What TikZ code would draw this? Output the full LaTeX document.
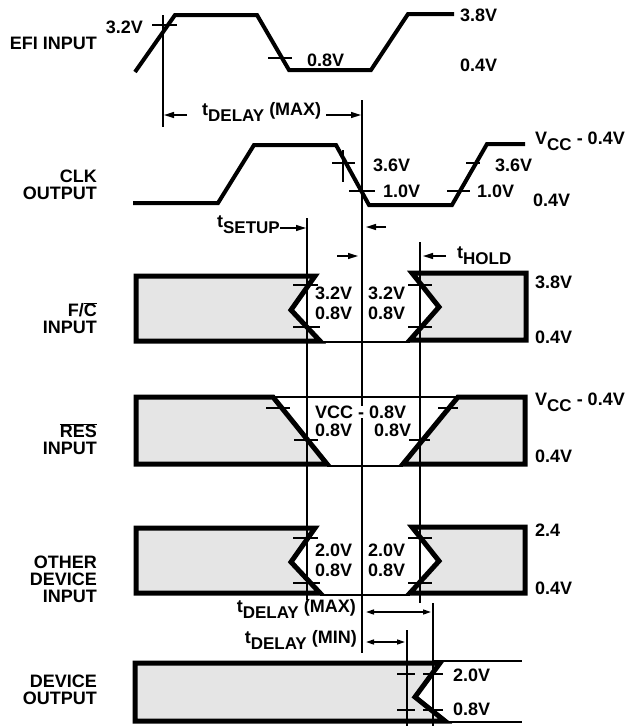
\documentclass[tikz,border=0pt]{standalone}
\usepackage{fontspec}
\setmainfont{Liberation Sans}
\usetikzlibrary{arrows.meta}
\newcommand\ovl[1]{\ensuremath{\overline{\hbox{#1}}}}
\newcommand\lowsub[1]{\raisebox{-6pt}{\fontsize{17}{17}\selectfont #1}}
\begin{document}
\begin{tikzpicture}[x=1pt,y=-1pt,
  sig/.style={line width=4pt},
  boxshape/.style={line width=5pt, fill=black!10},
  thinline/.style={line width=1.5pt},
  tickmark/.style={line width=1.5pt},
  lbl/.style={font=\bfseries\fontsize{18}{17}\selectfont, inner sep=0pt},
  sidelbl/.style={lbl, anchor=east, align=right},
  vlbl/.style={lbl, anchor=west},
  arr/.style={line width=1.5pt, -{Triangle[length=10pt,width=6pt]}},
  darr/.style={line width=1.5pt, {Triangle[length=8pt,width=5pt]}-{Triangle[length=8pt,width=5pt]}}
]
\useasboundingbox (0,0) rectangle (627,726);

% ---------- vertical reference lines ----------
\coordinate (v1t) at (163,15);  \coordinate (v1b) at (163,127);
\coordinate (v2t) at (362,100); \coordinate (v2b) at (362,653);
\coordinate (v3t) at (307,218); \coordinate (v3b) at (307,600);
\coordinate (v4t) at (420,242); \coordinate (v4b) at (420,603);
\coordinate (v5t) at (433,603); \coordinate (v5b) at (433,726);
\coordinate (v6t) at (407,630); \coordinate (v6b) at (407,726);

% ---------- EFI INPUT ----------
\node[sidelbl] (efi) at (97,43) {EFI INPUT};
\draw[sig] (135,72) -- (175,15) -- (257,15) -- (289,70) -- (371,70) -- (408,14) -- (454,14);
\draw[tickmark] (152,25) -- (177,25);
\draw[tickmark] (268,58) -- (292,58);
\node[lbl, anchor=east] (efi32) at (143,27) {3.2V};
\node[vlbl] (efi08) at (307,60) {0.8V};
\node[vlbl] (efi38) at (460,15) {3.8V};
\node[vlbl] (efi04) at (460,65) {0.4V};

% ---------- CLK OUTPUT ----------
\node[sidelbl] (clk) at (97,185) {CLK\\OUTPUT};
\draw[sig] (133,203) -- (218,203) -- (254,145) -- (336,145) -- (369,205) -- (452,205) -- (487,144) -- (525,144);
\draw[tickmark] (332,163) -- (355,163);
\draw[tickmark] (343,150) -- (343,182);
\draw[tickmark] (349,191) -- (375,191);
\draw[tickmark] (466,163) -- (480,163);
\draw[tickmark] (447,191) -- (470,191);
\node[vlbl] (clk36a) at (373,165) {3.6V};
\node[vlbl] (clk10a) at (383,191) {1.0V};
\node[vlbl] (clk36b) at (495,165) {3.6V};
\node[vlbl] (clk10b) at (477,191) {1.0V};
\node[vlbl] (clk04) at (533,200) {0.4V};
\node[vlbl] (clkvcc) at (535,141) {V\lowsub{CC} - 0.4V};

% ---------- F/C INPUT ----------
\node[sidelbl] (fc) at (97,318) {F/\ovl{C}\\INPUT};
\draw[boxshape] (136,276) -- (315,276) -- (291,310) -- (320,341) -- (136,341) -- cycle;
\draw[boxshape] (412,273) -- (526,273) -- (526,340) -- (410,340) -- (439,307) -- cycle;
\draw[thinline] (320,342) -- (410,342);
\draw[tickmark] (293,285) -- (318,285);
\draw[tickmark] (293,327) -- (320,327);
\draw[tickmark] (408,285) -- (432,285);
\draw[tickmark] (408,327) -- (432,327);
\node[vlbl] (fc32a) at (315,293) {3.2V};
\node[vlbl] (fc08a) at (315,313) {0.8V};
\node[vlbl] (fc32b) at (368,293) {3.2V};
\node[vlbl] (fc08b) at (368,313) {0.8V};
\node[vlbl] (fc38) at (535,282) {3.8V};
\node[vlbl] (fc04) at (535,337) {0.4V};

% ---------- RES INPUT ----------
\node[sidelbl] (res) at (97,439) {\ovl{RES}\\INPUT};
\draw[boxshape] (136,397) -- (273,397) -- (327,464) -- (136,464) -- cycle;
\draw[boxshape] (458,397) -- (525,397) -- (525,464) -- (403,464) -- cycle;
\draw[thinline] (273,397) -- (458,397);
\draw[thinline] (327,466) -- (403,466);
\draw[tickmark] (266,408) -- (290,408);
\draw[tickmark] (294,440) -- (318,440);
\draw[tickmark] (438,408) -- (458,408);
\draw[tickmark] (409,440) -- (430,440);

% ---------- OTHER DEVICE INPUT ----------
\node[sidelbl] (oth) at (97,579) {OTHER\\DEVICE\\INPUT};
\draw[boxshape] (136,528) -- (315,528) -- (291,562) -- (320,593) -- (136,593) -- cycle;
\draw[boxshape] (412,527) -- (525,527) -- (525,593) -- (410,593) -- (439,561) -- cycle;
\draw[thinline] (320,595) -- (410,595);
\draw[tickmark] (293,538) -- (318,538);
\draw[tickmark] (293,583) -- (320,583);
\draw[tickmark] (408,538) -- (432,538);
\draw[tickmark] (408,583) -- (432,583);
\node[vlbl] (oth20a) at (315,550) {2.0V};
\node[vlbl] (oth08a) at (315,570) {0.8V};
\node[vlbl] (oth20b) at (368,550) {2.0V};
\node[vlbl] (oth08b) at (368,570) {0.8V};
\node[vlbl] (oth24) at (535,530) {2.4};
\node[vlbl] (oth04) at (535,588) {0.4V};

% ---------- DEVICE OUTPUT ----------
\node[sidelbl] (dev) at (97,690) {DEVICE\\OUTPUT};
\draw[boxshape] (135,663) -- (440,663) -- (415,697) -- (445,721) -- (135,721) -- cycle;
\draw[thinline] (433,661) -- (522,661);
\draw[thinline] (445,722) -- (522,722);
\draw[tickmark] (397,674) -- (415,674);
\draw[tickmark] (423,674) -- (443,674);
\draw[tickmark] (397,710) -- (415,710);
\draw[tickmark] (423,710) -- (443,710);
\node[vlbl] (dev20) at (453,675) {2.0V};
\node[vlbl] (dev08) at (453,709) {0.8V};

% ---------- vertical lines ----------
\draw[thinline] (v1t) -- (v1b);
\draw[thinline] (v2t) -- (v2b);
\draw[thinline] (v3t) -- (v3b);
\draw[thinline] (v4t) -- (v4b);
\draw[thinline] (v5t) -- (v5b);
\draw[thinline] (v6t) -- (v6b);

% RES labels (white backed, over the line)
\node[vlbl, fill=white] (resvcc) at (315,412) {VCC - 0.8V};
\node[vlbl] (res08a) at (315,430) {0.8V};
\node[vlbl] (res08b) at (374,430) {0.8V};
\node[vlbl] (resvcc4) at (535,402) {V\lowsub{CC} - 0.4V};
\node[vlbl] (res04) at (535,456) {0.4V};

% ---------- timing annotations ----------
\node[lbl, anchor=west] (tdmax1) at (202,112) {t\lowsub{DELAY} (MAX)};
\coordinate (a1s) at (187,115); \coordinate (a1e) at (164,115);
\draw[arr] (a1s) -- (a1e);
\coordinate (a2s) at (326,115); \coordinate (a2e) at (361,115);
\draw[arr] (a2s) -- (a2e);

\node[lbl, anchor=east] (tsetup) at (280,225) {t\lowsub{SETUP}};
\coordinate (a3s) at (280,228); \coordinate (a3e) at (306,228);
\draw[arr] (a3s) -- (a3e);
\coordinate (a4s) at (386,227); \coordinate (a4e) at (366,227);
\draw[arr] (a4s) -- (a4e);
\coordinate (a5s) at (337,256); \coordinate (a5e) at (358,256);
\draw[arr] (a5s) -- (a5e);
\coordinate (a6s) at (446,256); \coordinate (a6e) at (423,256);
\draw[arr] (a6s) -- (a6e);
\node[lbl, anchor=west] (thold) at (457,256) {t\lowsub{HOLD}};

\node[lbl, anchor=east] (tdmax2) at (356,609) {t\lowsub{DELAY} (MAX)};
\coordinate (a7s) at (366,612); \coordinate (a7e) at (431,612);
\draw[darr] (a7s) -- (a7e);
\node[lbl, anchor=east] (tdmin) at (357,640) {t\lowsub{DELAY} (MIN)};
\coordinate (a8s) at (366,642); \coordinate (a8e) at (405,642);
\draw[darr] (a8s) -- (a8e);
\end{tikzpicture}
\end{document}
